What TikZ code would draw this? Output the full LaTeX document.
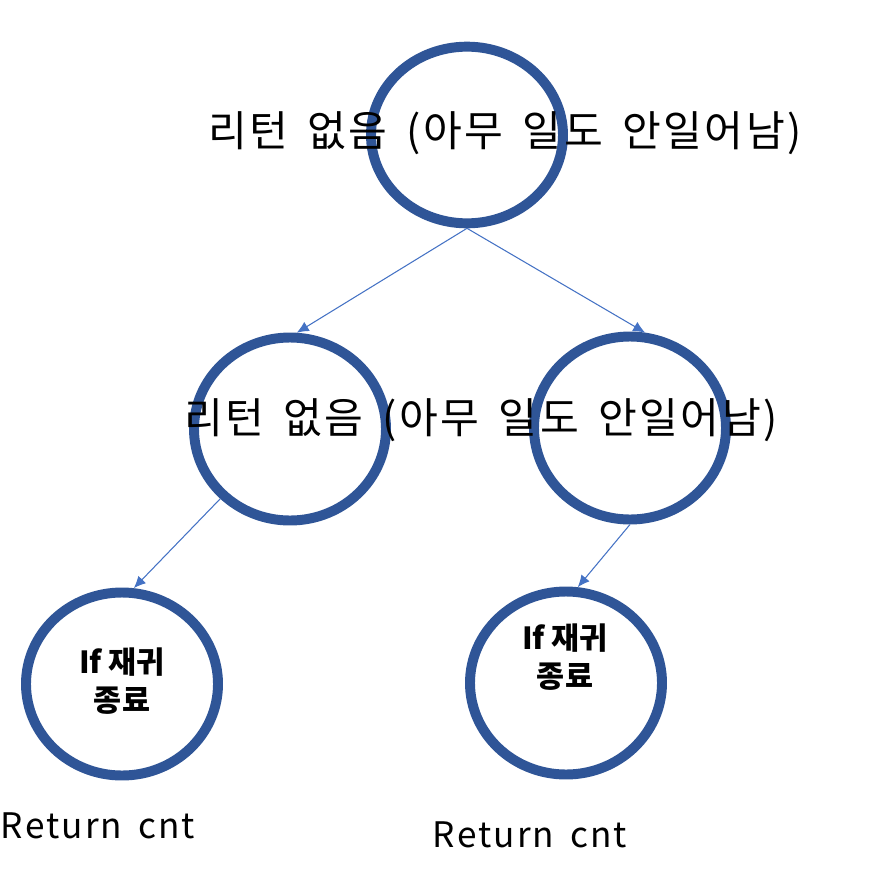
\documentclass[tikz,border=0pt]{standalone}
\usepackage{fontspec}
\setmainfont{Noto Sans CJK KR}
\newfontfamily\widefont[WordSpace=1.6,LetterSpace=6]{Noto Sans CJK KR}
\usepackage{tikz}
\usetikzlibrary{shapes.geometric,arrows.meta}
\definecolor{ringblue}{HTML}{2F5597}
\definecolor{arrowblue}{HTML}{4472C4}
\tikzset{
  ring/.style={ellipse,draw=ringblue,line width=8.5pt,minimum width=5.76cm,
               minimum height=5.49cm,inner sep=0pt},
  bigtxt/.style={font=\widefont\fontsize{36}{42}\selectfont,inner sep=0pt},
  endtxt/.style={font=\fontsize{26}{32}\selectfont\bfseries,align=center,inner sep=0pt},
  rettxt/.style={font=\widefont\fontsize{30}{36}\selectfont,inner sep=0pt},
  arr/.style={-{Latex[length=3.6mm,width=3.2mm]},draw=arrowblue,line width=0.9pt},
}

\begin{document}
\begin{tikzpicture}[x=0.03cm,y=-0.03cm]
  \useasboundingbox (0,0) rectangle (875,871);
  % rings
  \node[ring,minimum height=5.3cm] (top) at (467,135) {};
  \node[ring] (ml) at (290,429) {};
  \node[ring] (mr) at (630,428) {};
  \node[ring] (bl) at (122,684) {};
  \node[ring] (br) at (566,683) {};
  % texts
  \node[bigtxt] (toptxt) at (505,133) {리턴 없음 (아무 일도 안일어남)};
  \node[bigtxt] (midtxt) at (481,420) {리턴 없음 (아무 일도 안일어남)};
  \node[endtxt] (bltxt) at (122,681) {If 재귀\\종료};
  \node[endtxt] (brtxt) at (565,657) {If 재귀\\종료};
  \node[rettxt] (ret1) at (98,826) {Return cnt};
  \node[rettxt] (ret2) at (530,835) {Return cnt};
  % arrows
  \draw[arr] (top.south) -- (ml.86);
  \draw[arr] (top.south) -- (mr.81);
  \draw[arr] (ml.225) -- (bl.83);
  \draw[arr] (mr.south) -- (br.83);
\end{tikzpicture}
\end{document}
